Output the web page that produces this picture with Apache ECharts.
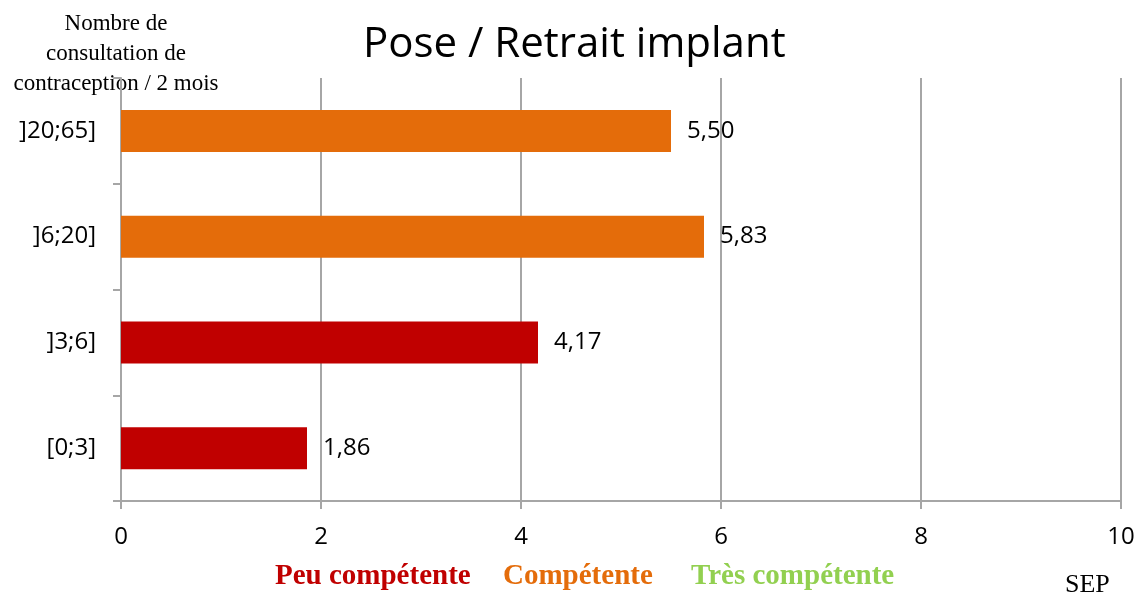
<!DOCTYPE html>
<html>
<head>
<meta charset="utf-8">
<script src="https://cdn.jsdelivr.net/npm/echarts@6/dist/echarts.min.js"></script>
<style>html,body{margin:0;padding:0;background:#fff}#c{width:1138px;height:592px}</style>
</head>
<body>
<div id="c"></div>
<script>
const categories = ['[0;3]', ']3;6]', ']6;20]', ']20;65]'];
const values = [1.86, 4.17, 5.83, 5.50];
const levels = ['Peu compétente', 'Peu compétente', 'Compétente', 'Compétente'];
const legendItems = ['Peu compétente', 'Compétente', 'Très compétente'];
const legendColors = ['#C00000', '#E46C0A', '#92D050'];
const xTicks = [0, 2, 4, 6, 8, 10];
const titleText = 'Pose / Retrait implant';
const yName = ['Nombre de', 'consultation de', 'contraception / 2 mois'];
const xName = 'SEP';

const colorOf = l => legendColors[legendItems.indexOf(l)];
const chart = echarts.init(document.getElementById('c'), null, {renderer: 'canvas'});
const gray = '#A6A6A6';
const sans = '"Open Sans", sans-serif';
const serif = '"Liberation Serif", "Times New Roman", serif';

const legendX = [275, 503, 691];
chart.setOption({
  animation: false,
  backgroundColor: '#fff',
  title: {
    text: titleText, left: 363, top: 24, padding: 0,
    textStyle: {fontFamily: sans, fontSize: 42, fontWeight: 'normal', color: '#000'}
  },
  grid: {left: 121, right: 17, top: 78, bottom: 91},
  xAxis: {
    type: 'value', min: xTicks[0], max: xTicks[xTicks.length - 1], interval: 2,
    axisLine: {show: true, lineStyle: {color: gray, width: 2}},
    axisTick: {show: true, length: 8, lineStyle: {color: gray, width: 2}},
    splitLine: {show: true, lineStyle: {color: gray, width: 2}},
    axisLabel: {margin: 24, fontFamily: sans, fontSize: 24, color: '#000'}
  },
  yAxis: {
    type: 'category', data: categories,
    axisLine: {show: true, lineStyle: {color: gray, width: 2}},
    axisTick: {show: true, length: 8, lineStyle: {color: gray, width: 2}},
    axisLabel: {margin: 25, fontFamily: sans, fontSize: 24, color: '#000'}
  },
  series: [{
    type: 'bar', barWidth: 42,
    data: values.map((v, i) => ({value: v, itemStyle: {color: colorOf(levels[i])}})),
    label: {
      show: true, position: 'right', distance: 16,
      fontFamily: sans, fontSize: 24, color: '#000',
      formatter: p => p.value.toFixed(2).replace('.', ',')
    }
  }],
  graphic: [
    {type: 'text', x: 116, y: 9, style: {
      text: yName.join('\n'), fontFamily: serif, fontSize: 23, lineHeight: 30,
      fill: '#000', align: 'center', verticalAlign: 'top'
    }},
    ...legendItems.map((t, i) => ({
      type: 'text', x: legendX[i], y: 562,
      style: {text: t, fontFamily: serif, fontSize: 29, fontWeight: 'bold', fill: legendColors[i], verticalAlign: 'top'}
    })),
    {type: 'text', x: 1065, y: 572, style: {text: xName, fontFamily: serif, fontSize: 26, fill: '#000', verticalAlign: 'top'}}
  ]
});
</script>
</body>
</html>
